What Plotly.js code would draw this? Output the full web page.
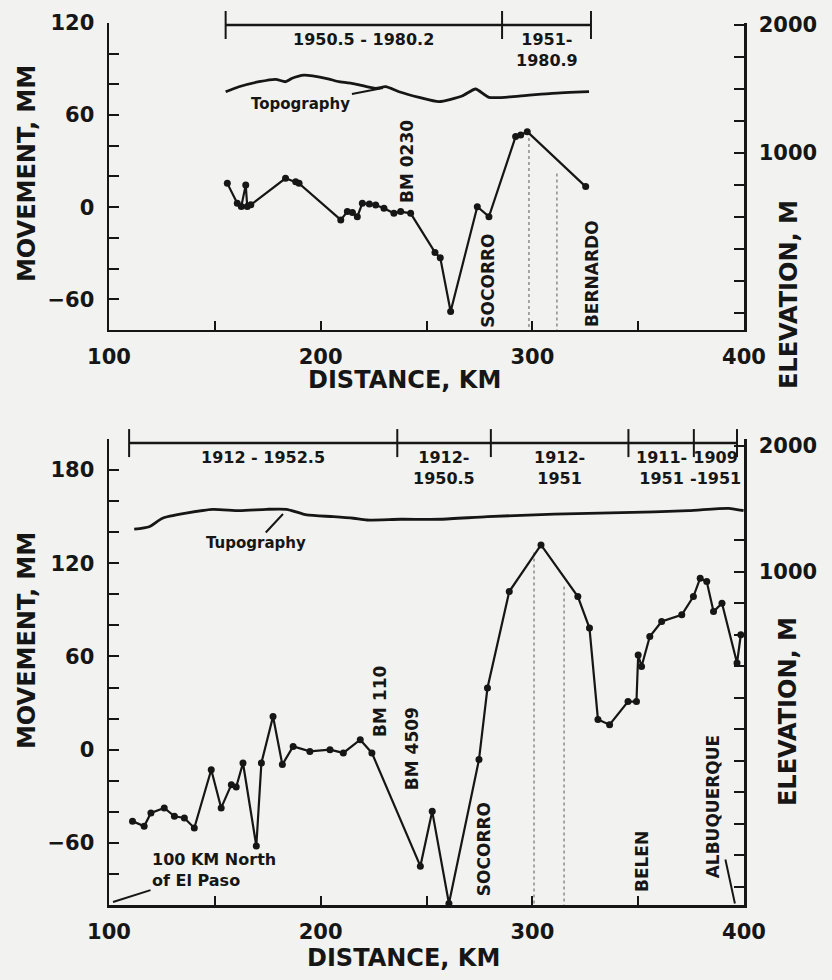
<!DOCTYPE html>
<html>
<head>
<meta charset="utf-8">
<script src="https://cdn.plot.ly/plotly-3.0.1.min.js"></script>
<style>html,body{margin:0;padding:0;background:#f2f2f0;}#chart{width:832px;height:980px;}</style>
</head>
<body>
<div id="chart"></div>
<script>
// ---------- DATA ----------
// Upper panel: leveling line, distance (km) and movement (mm)
const TOP_KM = [155.9,160.6,162.5,164.6,165.3,167,183.4,188.2,189.8,209.5,212.6,215,217.3,219.7,223,226,229.9,234.6,237.8,242.5,254,256.5,261.4,274,279.5,292.1,294.5,297.6,325.2];
const TOP_MM = [15.5,2.5,0.5,14.5,0.5,1.5,18.8,16.6,15.5,-8.3,-2.9,-3.5,-6.2,2.5,2,1.4,-0.7,-4,-2.9,-4,-29.5,-33,-68,0.3,-6.2,46,47,49.2,13.4];
// Upper panel topography (km, elevation m)
const TOPO1_KM = [155.1,161.4,170.9,178.7,183.4,186.5,192.1,202.4,208.7,216.5,226,230.7,237,246.5,255.9,266.8,273.2,279.5,293.7,309.3,326.8];
const TOPO1_M  = [1479,1518,1557,1576,1557,1584,1609,1584,1557,1539,1505,1518,1479,1435,1401,1445,1500,1435,1445,1466,1479];
// Upper panel survey periods
const TOP_PERIOD_KM = [155.1,285.7,327.7];
const TOP_PERIOD_LABELS = ["1950.5 - 1980.2","1951-<br>1980.9"];
// Upper panel dotted reference lines (km, top of line in mm)
const TOP_REF_KM = [298.4,311.6];
const TOP_REF_TOP = [45,22];
// Upper panel place names
const TOP_PLACES = ["BM 0230","SOCORRO","BERNARDO"];
const TOP_PLACE_KM = [240.8,279,328.2];
const TOP_PLACE_MM = [29.4,-48,-43.6];

// Lower panel
const BOT_KM = [111.1,116.6,119.8,126.1,130.9,135.6,140.3,148.3,153,157.8,160.1,163.3,169.6,172,177.5,181.9,187,194.9,204.4,210.7,218.7,224.2,247.1,252.7,260.6,274.8,278.8,289.1,304.1,321.5,327,331,336.5,345.2,349.2,350,351.6,355.5,361.1,370.6,376.1,379.3,382.4,385.6,389.6,396.7,398.5];
const BOT_MM = [-46,-49.3,-40.7,-37.5,-42.9,-44,-50.4,-12.9,-37.5,-22.5,-24,-8.6,-62,-8.6,21.4,-9.6,2.1,-1.1,0,-2.1,6.4,-2.1,-75,-39.7,-99,-6.4,39.7,101.8,131.8,98.6,78.3,19.5,16.1,31,31,61,53.6,72.9,82.5,86.8,98.6,110.4,108.2,88.9,94.3,55.8,74];
const TOPO2_KM = [111.9,119,125.3,136.4,149,161.7,174.4,183.9,193.4,206,215.5,221.9,237.7,256.6,278.8,310.4,342.1,373.7,392.7,399.8];
const TOPO2_M  = [1339,1359,1426,1466,1497,1486,1497,1497,1452,1439,1426,1412,1418,1418,1439,1458,1470,1486,1505,1486];
const BOT_PERIOD_KM = [109.5,236.2,280.4,345.4,376.3,396.7];
const BOT_PERIOD_LABELS = ["1912 - 1952.5","1912-<br>1950.5","1912-<br>1951","1911-<br>1951","1909<br>-1951"];
const BOT_REF_KM = [300.8,315];
const BOT_REF_TOP = [127,105];
const BOT_PLACES = ["BM 110","BM 4509","SOCORRO","BELEN"];
const BOT_PLACE_KM = [227.7,242.9,277,351.6];
const BOT_PLACE_MM = [30.9,0.6,-64.3,-72];

// ---------- STYLE ----------
const BG = '#f2f2f0', INK = '#161616', GRAY = '#8c8c8c';
const FONT = 'DejaVu Sans, Arial, sans-serif';
const B = s => '<b>' + s + '</b>';

const traces = [];
function refLines(kms, tops, bottom, xa, ya) {
  kms.forEach((k, i) => traces.push({x:[k,k], y:[tops[i], bottom], xaxis:xa, yaxis:ya, mode:'lines',
    line:{color:GRAY, width:1.5, dash:'dot'}, hoverinfo:'skip'}));
}
refLines(TOP_REF_KM, TOP_REF_TOP, -80, 'x', 'y');
refLines(BOT_REF_KM, BOT_REF_TOP, -100, 'x2', 'y3');

// topography
traces.push({x:TOPO1_KM, y:TOPO1_M, xaxis:'x', yaxis:'y2', mode:'lines', line:{color:INK, width:2.8, shape:'spline', smoothing:0.6}});
traces.push({x:TOPO2_KM, y:TOPO2_M, xaxis:'x2', yaxis:'y4', mode:'lines', line:{color:INK, width:2.8, shape:'spline', smoothing:0.6}});
// movement
traces.push({x:TOP_KM, y:TOP_MM, xaxis:'x', yaxis:'y', mode:'lines+markers', line:{color:INK, width:2.2}, marker:{color:INK, size:7}, cliponaxis:true});
traces.push({x:BOT_KM, y:BOT_MM, xaxis:'x2', yaxis:'y3', mode:'lines+markers', line:{color:INK, width:2.2}, marker:{color:INK, size:7}, cliponaxis:false});
// period bars
const TOP_BAR_Y = 118.7, BOT_BAR_Y = 197.4;
traces.push({x:TOP_PERIOD_KM, y:TOP_PERIOD_KM.map(() => TOP_BAR_Y), xaxis:'x', yaxis:'y', mode:'lines+markers', cliponaxis:false,
  line:{color:INK, width:2.5}, marker:{symbol:'line-ns', size:20, line:{color:INK, width:2}}});
traces.push({x:BOT_PERIOD_KM, y:BOT_PERIOD_KM.map(() => BOT_BAR_Y), xaxis:'x2', yaxis:'y3', mode:'lines+markers', cliponaxis:false,
  line:{color:INK, width:2.5}, marker:{symbol:'line-ns', size:20, line:{color:INK, width:2}}});

// ---------- ANNOTATIONS ----------
const ann = [];
const lblFont = {family:FONT, size:16, color:INK};
function periodLabels(kms, labels, yTop, xr, yr) {
  labels.forEach((t, i) => ann.push({x:(kms[i]+kms[i+1])/2, y:yTop, xref:xr, yref:yr, text:B(t), showarrow:false,
    yanchor:'top', xanchor:'center', align:'center', font:lblFont}));
}
periodLabels(TOP_PERIOD_KM, TOP_PERIOD_LABELS, 116.5, 'x', 'y');
periodLabels(BOT_PERIOD_KM, BOT_PERIOD_LABELS, 195.5, 'x2', 'y3');
function places(names, kms, mms, xr, yr) {
  names.forEach((t, i) => ann.push({x:kms[i], y:mms[i], xref:xr, yref:yr, text:B(t), showarrow:false, textangle:-90,
    xanchor:'center', yanchor:'middle', font:{family:FONT, size:17, color:INK}}));
}
places(TOP_PLACES, TOP_PLACE_KM, TOP_PLACE_MM, 'x', 'y');
places(BOT_PLACES, BOT_PLACE_KM, BOT_PLACE_MM, 'x2', 'y3');
// leader-line labels
ann.push({x:229.4, y:1508, xref:'x', yref:'y2', text:B('Topography'), showarrow:true, arrowhead:0, arrowwidth:2, arrowcolor:INK, ax:-82, ay:16, font:{family:FONT, size:15, color:INK}});
ann.push({x:182.2, y:1460, xref:'x2', yref:'y4', text:B('Tupography'), showarrow:true, arrowhead:0, arrowwidth:2, arrowcolor:INK, ax:-27, ay:29, font:{family:FONT, size:15, color:INK}});
ann.push({x:101.9, y:-98.1, xref:'x2', yref:'y3', text:B('100 KM North<br>of El Paso'), align:'left', showarrow:true, arrowhead:0, arrowwidth:2, arrowcolor:INK, ax:101, ay:-32, font:{family:FONT, size:16, color:INK}});
ann.push({x:395.7, y:-99, xref:'x2', yref:'y3', text:B('ALBUQUERQUE'), textangle:-90, showarrow:true, arrowhead:0, arrowwidth:2, arrowcolor:INK, ax:-21, ay:-97, font:{family:FONT, size:17, color:INK}});
// axis titles
const titleFont = {family:FONT, size:24, color:INK};
function title(t, x, y, angle) {
  ann.push({x:x, y:y, xref:'paper', yref:'paper', text:B(t), showarrow:false, textangle:angle, xanchor:'center', yanchor:'middle', font:titleFont});
}
title('DISTANCE, KM', 0.4646, 0.5952, 0);
title('DISTANCE, KM', 0.4630, -0.0601, 0);
title('MOVEMENT, MM', -0.1291, 0.8288, -90);
title('MOVEMENT, MM', -0.1291, 0.2993, -90);
title('ELEVATION, M', 1.0709, 0.6916, -90);
title('ELEVATION, M', 1.0693, 0.2188, -90);

// ---------- AXES ----------
const tickFont = {family:FONT, size:21, color:INK, weight:'bold'};
const base = {showgrid:false, zeroline:false, showline:true, linecolor:INK, linewidth:2.5, ticks:'inside', ticklen:10, tickwidth:2,
  tickcolor:INK, tickfont:tickFont, fixedrange:true};
const minorStyle = {ticks:'inside', ticklen:10, tickwidth:2, tickcolor:INK};
function xAx(anchor) {
  return Object.assign({}, base, {domain:[0,1], anchor:anchor, range:[100,400], tick0:100, dtick:100, ticklen:9,
    ticklabelstandoff:6, minor:Object.assign({}, minorStyle, {dtick:50, ticklen:9})});
}
function yLeft(dom, anchor, range) {
  return Object.assign({}, base, {domain:dom, anchor:anchor, range:range, tick0:0, dtick:60, ticklabelstandoff:8,
    minor:Object.assign({}, minorStyle, {dtick:20})});
}
function yRight(over, anchor, range, minorVals) {
  return Object.assign({}, base, {overlaying:over, side:'right', anchor:anchor, range:range, tickmode:'array',
    tickvals:[1000,2000], ticktext:['1000','2000'], ticklabelstandoff:8,
    minor:Object.assign({}, minorStyle, {tickmode:'array', tickvals:minorVals})});
}
const layout = {
  width:832, height:980,
  margin:{l:109, r:88, t:23, b:75},
  paper_bgcolor:BG, plot_bgcolor:BG,
  showlegend:false,
  font:{family:FONT, color:INK},
  xaxis: xAx('y'),
  yaxis: yLeft([0.652,1], 'x', [-80,120]),
  yaxis2: yRight('y', 'x', [-383,2016], [-250,0,250,500,750,1250,1500,1750]),
  xaxis2: xAx('y3'),
  yaxis3: yLeft([0,0.5283], 'x2', [-100,200]),
  yaxis4: yRight('y3', 'x2', [-1645,2055], [-1500,-1250,-1000,-750,-500,-250,0,250,500,750,1250]),
  annotations: ann
};
Plotly.newPlot('chart', traces, layout, {displayModeBar:false, staticPlot:true});
</script>
</body>
</html>
